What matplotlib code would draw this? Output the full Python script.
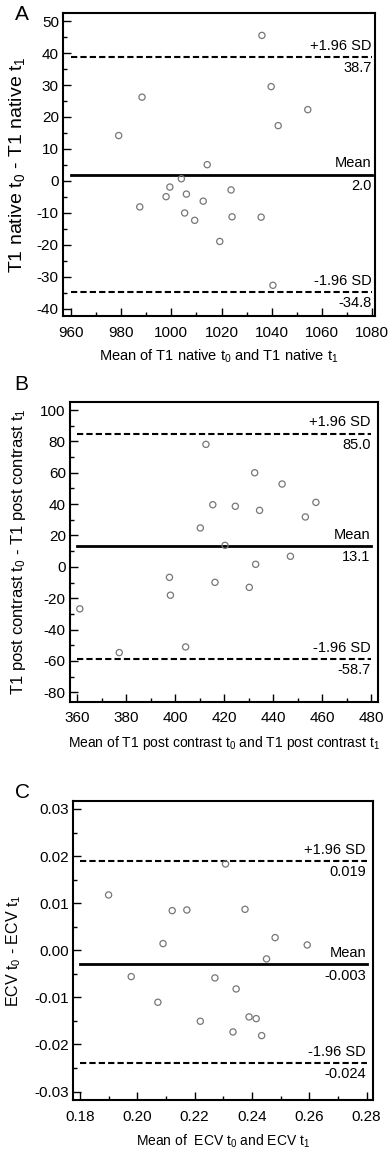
import numpy as np
import matplotlib
matplotlib.use("Agg")
import matplotlib.pyplot as plt
from matplotlib.ticker import MultipleLocator, FormatStrFormatter

plt.rcParams['font.family'] = ['Liberation Sans', 'DejaVu Sans']
plt.rcParams['mathtext.fontset'] = 'custom'
plt.rcParams['mathtext.rm'] = 'Liberation Sans'
plt.rcParams['mathtext.it'] = 'Liberation Sans'

# panel A: T1 native
a_x = [1036.1, 1039.8, 988.3, 1054.4, 1042.6, 979.0, 1014.3, 1004.0, 999.4, 997.9,
       1006.0, 1023.8, 1012.7, 987.4, 1005.3, 1009.3, 1024.2, 1035.8, 1019.3, 1040.5]
a_y = [45.5, 29.5, 26.2, 22.3, 17.3, 14.2, 5.1, 0.7, -1.9, -4.9,
       -4.1, -2.8, -6.3, -8.1, -10.0, -12.3, -11.2, -11.3, -18.9, -32.6]
a_stats = [2.0, 38.7, -34.8]

# panel B: T1 post contrast
b_x = [412.6, 432.5, 443.7, 415.4, 424.6, 434.5, 457.5, 453.2, 410.3, 420.4,
       447.1, 432.9, 397.7, 416.3, 430.3, 398.1, 361.1, 404.3, 377.2]
b_y = [78.1, 60.0, 52.8, 39.6, 38.6, 36.0, 41.1, 31.8, 24.8, 13.7,
       6.7, 1.6, -6.7, -9.9, -13.1, -18.1, -26.8, -51.1, -54.7]
b_stats = [13.1, 85.0, -58.7]

# panel C: ECV
c_x = [0.2308, 0.1900, 0.2122, 0.2173, 0.2376, 0.2090, 0.2481, 0.2593, 0.2451,
       0.1979, 0.2271, 0.2345, 0.2072, 0.2220, 0.2390, 0.2415, 0.2334, 0.2434]
c_y = [0.01833, 0.01175, 0.00842, 0.00856, 0.00870, 0.00142, 0.00269, 0.00113, -0.00184,
       -0.00559, -0.00587, -0.00821, -0.01104, -0.01507, -0.01415, -0.01451, -0.01734, -0.01812]
c_stats = [-0.003, 0.019, -0.024]
c_labels = ['-0.003', '0.019', '-0.024']

fig = plt.figure(figsize=(3.89, 11.52), dpi=100)

panels = [
    dict(pos=[0.162, 0.7257, 0.802, 0.263], x=a_x, y=a_y, st=a_stats,
         lab=['%.1f' % v for v in a_stats],
         xlim=(956.8, 1081.2), ylim=(-42.2, 52.5), xt=(960, 1080, 20), yt=(-40, 50, 10),
         xmin=10, ymin=5, yfmt='%d', xfmt='%d', letter='A', lpos=(0.057, 0.987),
         xlabel='Mean of T1 native t$_0$ and T1 native t$_1$', xls=10.5,
         ylabel='T1 native t$_0$ - T1 native t$_1$', yls=14, ylx=-0.115),
    dict(pos=[0.180, 0.3909, 0.792, 0.2604], x=b_x, y=b_y, st=b_stats,
         lab=['%.1f' % v for v in b_stats],
         xlim=(357.1, 482.9), ylim=(-86.0, 105.3), xt=(360, 480, 20), yt=(-80, 100, 20),
         xmin=10, ymin=10, yfmt='%d', xfmt='%d', letter='B', lpos=(0.054, 0.666),
         xlabel='Mean of T1 post contrast t$_0$ and T1 post contrast t$_1$', xls=10,
         ylabel='T1 post contrast t$_0$ - T1 post contrast t$_1$', yls=12, ylx=-0.135),
    dict(pos=[0.1885, 0.0451, 0.770, 0.2596], x=c_x, y=c_y, st=c_stats,
         lab=c_labels,
         xlim=(0.1777, 0.2822), ylim=(-0.0318, 0.0317), xt=(0.18, 0.28, 0.02), yt=(-0.03, 0.03, 0.01),
         xmin=0.01, ymin=0.005, yfmt='%.2f', xfmt='%.2f', letter='C', lpos=(0.057, 0.312),
         xlabel='Mean of  ECV t$_0$ and ECV t$_1$', xls=10,
         ylabel='ECV t$_0$ - ECV t$_1$', yls=11.5, ylx=-0.168),
]

for p in panels:
    ax = fig.add_axes(p['pos'])
    x0, x1 = p['xt'][0], p['xt'][1]
    ax.scatter(p['x'], p['y'], s=20, facecolors='none', edgecolors='#777777', linewidths=0.9, zorder=3)

    mean, up, lo = p['st']
    ax.plot([x0, x1], [mean, mean], color='black', lw=2.0)
    ax.plot([x0, x1], [up, up], color='black', lw=1.5, dashes=(3, 1.5))
    ax.plot([x0, x1], [lo, lo], color='black', lw=1.5, dashes=(3, 1.5))

    xr = x1 - 0.002 * (x1 - x0)
    for val, name, txt in zip(p['st'], ['Mean', '+1.96 SD', '-1.96 SD'], p['lab']):
        ax.annotate(name, (xr, val), xytext=(0, 3), textcoords='offset points',
                    ha='right', va='bottom', fontsize=10.5)
        ax.annotate(txt, (xr, val), xytext=(0, -3), textcoords='offset points',
                    ha='right', va='top', fontsize=10.5)

    ax.set_xlim(p['xlim'])
    ax.set_ylim(p['ylim'])
    ax.set_xticks(np.arange(p['xt'][0], p['xt'][1] + p['xt'][2] / 2, p['xt'][2]))
    ax.set_yticks(np.arange(p['yt'][0], p['yt'][1] + p['yt'][2] / 2, p['yt'][2]))
    ax.xaxis.set_minor_locator(MultipleLocator(p['xmin']))
    ax.yaxis.set_minor_locator(MultipleLocator(p['ymin']))
    ax.xaxis.set_major_formatter(FormatStrFormatter(p['xfmt']))
    ax.yaxis.set_major_formatter(FormatStrFormatter(p['yfmt']))
    ax.tick_params(which='both', direction='in', labelsize=11, width=1.0)
    ax.tick_params(axis='x', pad=7)
    ax.tick_params(axis='y', pad=3)
    ax.tick_params(which='major', length=6)
    ax.tick_params(which='minor', length=3)
    for s in ax.spines.values():
        s.set_linewidth(1.5)
    ax.set_xlabel(p['xlabel'], fontsize=p['xls'], labelpad=6)
    ax.set_ylabel(p['ylabel'], fontsize=p['yls'])
    ax.yaxis.set_label_coords(p['ylx'], 0.5)
    fig.text(p['lpos'][0], p['lpos'][1], p['letter'], fontsize=15, ha='center', va='center')

fig.savefig('out.png', dpi=100)
